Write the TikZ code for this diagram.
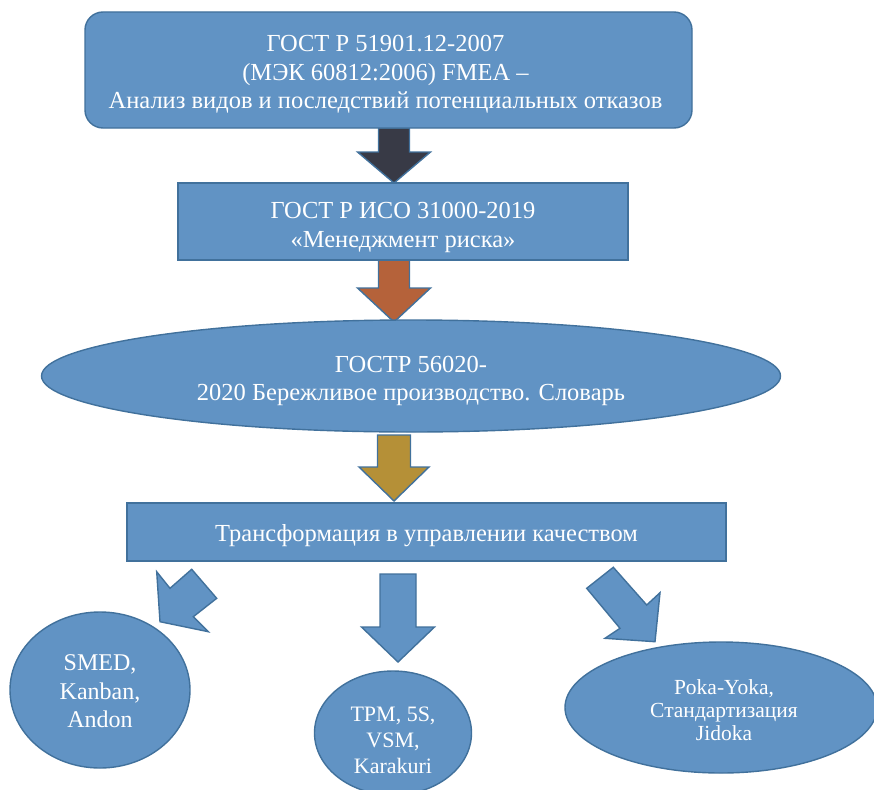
\documentclass[tikz,border=0pt]{standalone}
\usepackage{fontspec}
\setmainfont{Liberation Serif}
\usetikzlibrary{shapes.geometric}
\definecolor{boxblue}{RGB}{97,147,196}
\definecolor{edgeblue}{RGB}{65,113,156}
\definecolor{arrdark}{RGB}{56,58,70}
\definecolor{arrorange}{RGB}{181,98,58}
\definecolor{arrgold}{RGB}{181,144,55}
\newcommand\dnarrow[6]{% x, top, junction, tip, shaft half, head half
  (#1-#5,#2) -- (#1+#5,#2) -- (#1+#5,#3) -- (#1+#6,#3) -- (#1,#4) -- (#1-#6,#3) -- (#1-#5,#3) -- cycle}
\begin{document}
\begin{tikzpicture}[x=1pt,y=-1pt,
  shapebase/.style={draw=edgeblue, line width=1.4pt, fill=boxblue, text=white, align=center, inner sep=0pt},
  txt/.style={text=white, align=center, inner sep=0pt},
  bigtext/.style={font=\fontsize{24.5}{28.5}\selectfont},
  blockarrow/.style={draw=edgeblue, line width=1.4pt, line join=miter},
  rbox/.style={shapebase, rectangle, rounded corners=18pt},
  sbox/.style={shapebase, rectangle},
  oval/.style={shapebase, ellipse}]
\clip (0,0) rectangle (874,789);
\useasboundingbox (0,0) rectangle (874,789);
\fill[white] (0,0) rectangle (874,789);

% arrows between levels
\filldraw[blockarrow, fill=arrdark] \dnarrow{394}{128}{152}{183}{15.5}{36.5};
\filldraw[blockarrow, fill=arrorange] \dnarrow{394}{260}{288}{322}{15.5}{36.5};
\filldraw[blockarrow, fill=arrgold] \dnarrow{394}{435}{467}{501}{16.5}{35};
\filldraw[blockarrow, fill=boxblue] \dnarrow{398}{574}{627}{662}{18}{36.5};

% tilted arrows
\filldraw[blockarrow, fill=boxblue] (160,621.7) -- (156.7,571.7) -- (170,588.3) -- (191.7,569.3) -- (216.7,598.3) -- (193.3,616.7) -- (208.3,631.7) -- cycle;
\filldraw[blockarrow, fill=boxblue] (586.7,588.3) -- (613.3,567.3) -- (646.7,605) -- (660,592.7) -- (655,641.7) -- (605,638.3) -- (620,628.3) -- cycle;

% main boxes
\node[rbox, minimum width=607pt, minimum height=116pt,
  label={[txt, bigtext, yshift=-4.5pt, xshift=-3pt]center:{ГОСТ Р 51901.12-2007\\(МЭК 60812:2006) FMEA –\\Анализ видов и последствий потенциальных отказов}}] (b1) at (388.5,70) {};
\node[sbox, minimum width=450pt, minimum height=77pt,
  label={[txt, bigtext, yshift=-6pt]center:{ГОСТ Р ИСО 31000-2019\\«Менеджмент риска»}}] (b2) at (403,221.5) {};
\node[oval, minimum width=739pt, minimum height=112pt,
  label={[txt, bigtext, yshift=-5pt]center:{ГОСТР 56020-\\2020 Бережливое производство. Словарь}}] (b3) at (411,376) {};
\node[sbox, minimum width=599pt, minimum height=58pt,
  label={[txt, bigtext, yshift=-4pt]center:{Трансформация в управлении качеством}}] (b4) at (426.5,532) {};

% bottom ellipses
\node[oval, minimum width=180pt, minimum height=156pt,
  label={[txt, font=\fontsize{24}{28.5}\selectfont, yshift=-1.5pt]center:{SMED,\\Kanban,\\Andon}}] (e1) at (100,690) {};
\node[oval, minimum width=157pt, minimum height=124pt,
  label={[txt, font=\fontsize{22}{26}\selectfont, yshift=-7.5pt]center:{TPM, 5S,\\VSM,\\Karakuri}}] (e2) at (393,733) {};
\node[oval, minimum width=312pt, minimum height=131pt,
  label={[txt, font=\fontsize{21.5}{23}\selectfont, yshift=-3pt, xshift=3pt]center:{Poka-Yoka,\\Стандартизация\\Jidoka}}] (e3) at (721,707.5) {};
\end{tikzpicture}
\end{document}
